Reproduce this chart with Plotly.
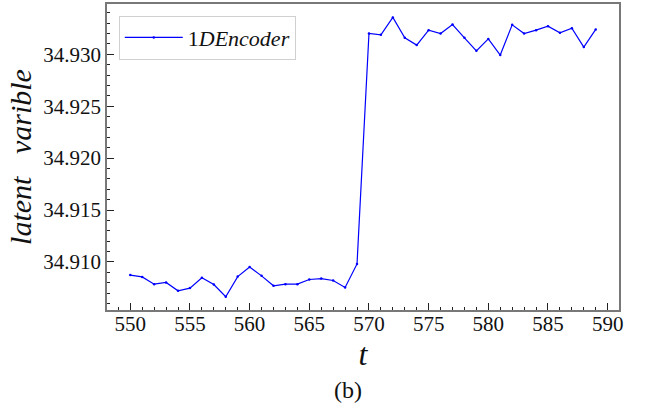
import plotly.graph_objects as go

# time steps and encoder latent values
t = list(range(550, 590))
latent = [
    34.90873, 34.90856, 34.90786, 34.90802, 34.90722, 34.90748, 34.90847, 34.90783,
    34.90665, 34.90859, 34.90952, 34.90866, 34.90770, 34.90786, 34.90786, 34.90831,
    34.90840, 34.90821, 34.90754, 34.90981,
    34.93201, 34.93188, 34.93355, 34.93159, 34.93089, 34.93233, 34.93201, 34.93287,
    34.93159, 34.93034, 34.93149, 34.92993, 34.93284, 34.93201, 34.93233, 34.93271,
    34.93207, 34.93252, 34.93070, 34.93240,
]

x_ticks = [550, 555, 560, 565, 570, 575, 580, 585, 590]
y_ticks = [34.910, 34.915, 34.920, 34.925, 34.930]
y_tick_text = ["34.910", "34.915", "34.920", "34.925", "34.930"]

SERIF = "Liberation Serif"
FRAME = "#787878"

fig = go.Figure()
fig.add_trace(go.Scatter(
    x=t, y=latent, mode="lines+markers", name="1<i>DEncoder</i>",
    line=dict(color="#0000ff", width=1.2),
    marker=dict(color="#0000ff", size=2.5),
))

axis_common = dict(
    showline=True, mirror=True, linecolor=FRAME, linewidth=1.6,
    showgrid=False, zeroline=False,
    ticks="inside", ticklen=7, tickwidth=1, tickcolor="#222",
    tickfont=dict(family=SERIF, size=21, color="#111"),
)

fig.update_xaxes(
    **axis_common,
    range=[548.05, 590.95], tickvals=x_ticks, ticklabelstandoff=-6,
    minor=dict(ticks="inside", ticklen=3.5, dtick=1, tickcolor="#222", tickwidth=1),
    title=dict(text="<i>t</i>", font=dict(family=SERIF, size=32, color="#111"), standoff=6),
)
fig.update_yaxes(
    **axis_common,
    range=[34.90537, 34.93485], tickvals=y_ticks, ticktext=y_tick_text,
    minor=dict(ticks="inside", ticklen=3.5, dtick=0.001, tickcolor="#222", tickwidth=1),
    title=dict(text="<i>latent\u00a0\u00a0\u00a0varible</i>",
               font=dict(family=SERIF, size=30, color="#111"), standoff=3),
)

fig.add_annotation(
    text="(b)", xref="paper", yref="paper", x=0.47, y=-0.26,
    xanchor="center", yanchor="middle", showarrow=False,
    font=dict(family=SERIF, size=24, color="#111"),
)

fig.update_layout(
    width=648, height=413,
    margin=dict(l=107, r=29, t=2, b=103),
    paper_bgcolor="white", plot_bgcolor="white",
    showlegend=True,
    legend=dict(
        x=0.023, y=0.962, xanchor="left", yanchor="top",
        bgcolor="white", bordercolor="#d0d0d0", borderwidth=1,
        itemwidth=58,
        font=dict(family=SERIF, size=22, color="#111"),
    ),
)

fig.write_html("out.html")
